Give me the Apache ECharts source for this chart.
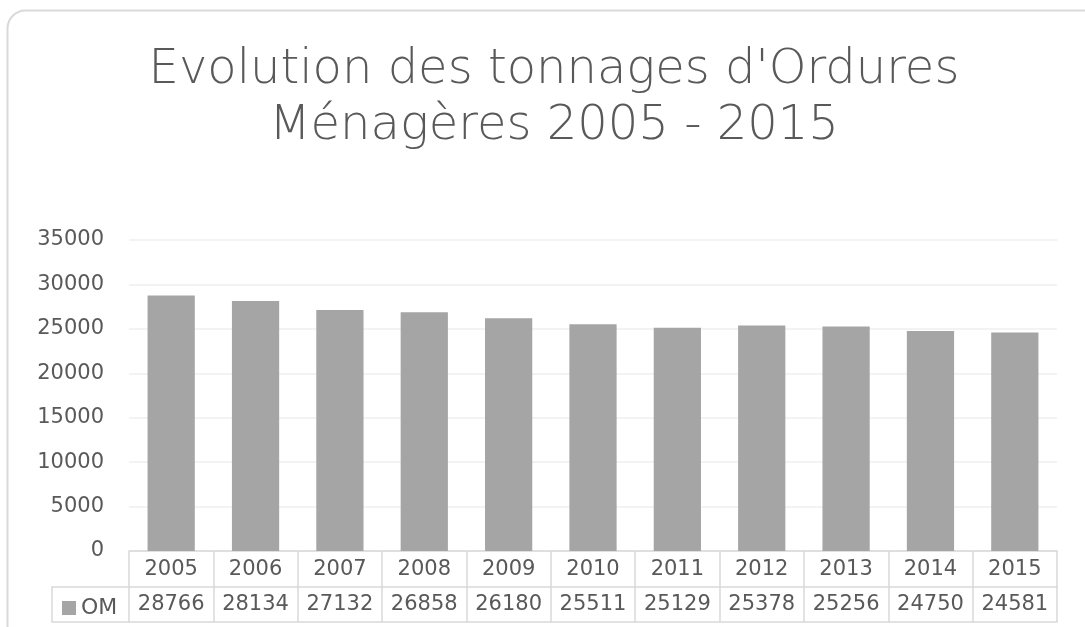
<!DOCTYPE html>
<html>
<head>
<meta charset="utf-8">
<script src="https://cdn.jsdelivr.net/npm/echarts@6/dist/echarts.min.js"></script>
<style>
  html, body { margin: 0; padding: 0; background: #fff; }
  #chart { width: 1085px; height: 627px; }
</style>
</head>
<body>
<div id="chart"></div>
<script>
// data
const years = ['2005', '2006', '2007', '2008', '2009', '2010', '2011', '2012', '2013', '2014', '2015']
const om = [28766, 28134, 27132, 26858, 26180, 25511, 25129, 25378, 25256, 24750, 24581]
const seriesName = 'OM'
const titleText = "Evolution des tonnages d'Ordures\nMénagères 2005 - 2015"

const txt = '#595959'
const border = '#d9d9d9'
const font = 'DejaVu Sans'

const c = echarts.init(document.getElementById('chart'))
c.setOption({
  animation: false,
  textStyle: { fontFamily: font },
  title: {
    text: titleText,
    left: 549,
    textAlign: 'center',
    top: 38,
    textStyle: { color: txt, fontSize: 48, fontWeight: 200, lineHeight: 56, fontFamily: font }
  },
  legend: {
    data: [seriesName],
    left: 57,
    top: 592,
    icon: 'rect',
    itemWidth: 14,
    itemHeight: 14,
    itemGap: 4,
    textStyle: { color: txt, fontSize: 22, fontFamily: font }
  },
  graphic: [
    {
      type: 'rect',
      shape: { x: 7.5, y: 10.5, width: 1120, height: 680, r: 18 },
      style: { fill: 'none', stroke: border, lineWidth: 2 },
      silent: true
    },
    {
      type: 'polyline',
      shape: { points: [[129, 587], [52, 587], [52, 622], [129, 622]] },
      style: { fill: 'none', stroke: border, lineWidth: 1.5 },
      silent: true
    }
  ],
  grid: { left: 129, right: 28, top: 240, bottom: 76 },
  xAxis: [
    {
      type: 'category',
      data: years,
      position: 'bottom',
      axisLine: { lineStyle: { color: border, width: 1.5 } },
      axisTick: { show: true, length: 36, lineStyle: { color: border, width: 1.5 } },
      axisLabel: { color: txt, fontSize: 21, margin: 8, interval: 0 }
    },
    {
      type: 'category',
      data: om.map(String),
      position: 'bottom',
      offset: 36,
      axisLine: { lineStyle: { color: border, width: 1.5 } },
      axisTick: { show: true, length: 35, lineStyle: { color: border, width: 1.5 } },
      axisLabel: { color: txt, fontSize: 21, margin: 7, interval: 0 }
    },
    {
      type: 'category',
      data: years,
      position: 'bottom',
      offset: 71,
      axisLine: { lineStyle: { color: border, width: 1.5 } },
      axisTick: { show: false },
      axisLabel: { show: false }
    }
  ],
  yAxis: {
    type: 'value',
    min: 0,
    max: 35000,
    interval: 5000,
    axisLine: { show: false },
    axisTick: { show: false },
    axisLabel: { color: txt, fontSize: 21, margin: 25, formatter: (v) => String(v) },
    splitLine: { lineStyle: { color: '#efefef', width: 1.5 } }
  },
  series: [
    {
      name: seriesName,
      type: 'bar',
      data: om,
      barCategoryGap: '44%',
      itemStyle: { color: '#a5a5a5' }
    }
  ]
})
</script>
</body>
</html>
